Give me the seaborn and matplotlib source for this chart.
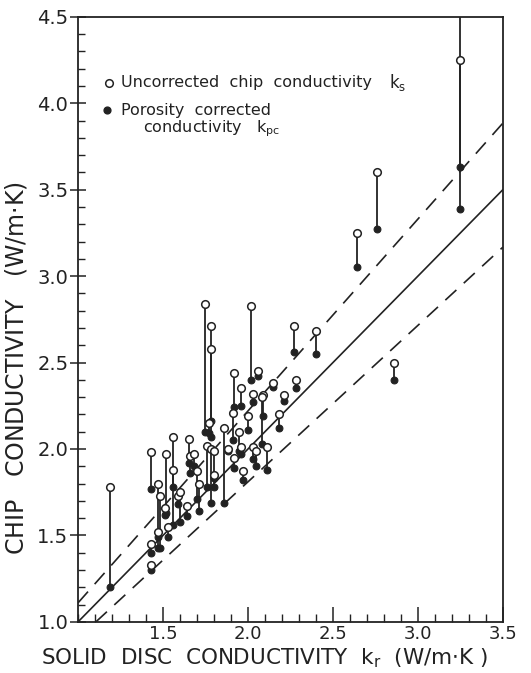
import numpy as np
import pandas as pd
import matplotlib
matplotlib.use("Agg")
import matplotlib.pyplot as plt
from matplotlib.ticker import MultipleLocator, FixedLocator
import seaborn as sns

# solid disc conductivity k_r (W/m.K)
k_r = [3.25, 3.25, 2.76, 2.64, 2.27, 2.40, 2.28, 2.86,
       2.02, 1.75, 1.78, 1.78, 2.06, 1.92, 1.96, 2.03, 2.09, 2.15,
       2.18, 2.21, 2.00, 1.91, 1.86, 1.95, 2.03, 1.96, 2.11, 1.97,
       1.92, 2.05, 2.08, 1.88,
       1.19, 1.43, 1.47, 1.48, 1.52, 1.56, 1.56, 1.51, 1.59, 1.65,
       1.66, 1.68, 1.70, 1.64, 1.77, 1.76, 1.78, 1.80, 1.80, 1.43,
       1.43, 1.47, 1.53, 1.71, 1.60]
# uncorrected chip conductivity k_s
k_s = [4.25, 4.70, 3.60, 3.25, 2.71, 2.68, 2.40, 2.50,
       2.83, 2.84, 2.71, 2.58, 2.45, 2.44, 2.35, 2.32, 2.31, 2.38,
       2.20, 2.31, 2.19, 2.21, 2.12, 2.10, 2.01, 2.01, 2.01, 1.87,
       1.95, 1.99, 2.30, 2.00,
       1.78, 1.98, 1.80, 1.73, 1.97, 2.07, 1.88, 1.66, 1.73, 2.06,
       1.96, 1.97, 1.87, 1.67, 2.15, 2.02, 2.00, 1.99, 1.85, 1.45,
       1.33, 1.52, 1.55, 1.80, 1.75]
# porosity corrected conductivity k_pc
k_pc = [3.63, 3.39, 3.27, 3.05, 2.56, 2.55, 2.35, 2.40,
        2.40, 2.10, 2.16, 2.07, 2.42, 2.24, 2.25, 2.27, 2.19, 2.36,
        2.12, 2.28, 2.11, 2.05, 1.69, 1.99, 1.94, 1.97, 1.88, 1.82,
        1.89, 1.90, 2.03, 1.99,
        1.20, 1.77, 1.49, 1.43, 1.63, 1.56, 1.78, 1.62, 1.68, 1.92,
        1.86, 1.90, 1.71, 1.61, 2.09, 1.78, 1.69, 1.83, 1.78, 1.40,
        1.30, 1.43, 1.49, 1.64, 1.58]

line_x = [1.0, 3.5]
band_hi = 1.11
band_lo = 0.905

df = pd.DataFrame({"k_r": k_r, "k_s": k_s, "k_pc": k_pc})

sns.set_style("white")
plt.rcParams["font.family"] = ["DejaVu Sans"]

ink = "#222222"
fig = plt.figure(figsize=(5.31, 6.73), dpi=100)
ax = fig.add_axes([0.147, 0.076, 0.800, 0.899])

# reference lines
lx = np.array(line_x)
ax.plot(lx, lx, color=ink, lw=1.2)
ax.plot(lx, band_hi * lx, color=ink, lw=1.2, dashes=(9, 6))
lo_x = np.array([1.0 / band_lo, line_x[1]])
ax.plot(lo_x, band_lo * lo_x, color=ink, lw=1.2, dashes=(9, 6))

# stems joining the two values
ax.vlines(df["k_r"], df["k_pc"], df["k_s"], color=ink, lw=1.3, zorder=2)

sns.scatterplot(data=df, x="k_r", y="k_pc", ax=ax, color=ink,
                s=24, edgecolor=ink, linewidth=0.8, zorder=3, legend=False)
sns.scatterplot(data=df, x="k_r", y="k_s", ax=ax, color="white",
                s=30, edgecolor=ink, linewidth=1.1, zorder=4, legend=False)

ax.set_xlim(1.0, 3.5)
ax.set_ylim(1.0, 4.5)

# legend drawn as text, like the original
ax.scatter([1.18], [4.12], s=30, facecolor="white", edgecolor=ink, linewidth=1.1)
ax.scatter([1.17], [3.96], s=24, color=ink)
ax.text(1.25, 4.12, "Uncorrected  chip  conductivity", fontsize=11.5,
        va="center", ha="left", color=ink)
ax.text(2.83, 4.12, "k$_\\mathrm{s}$", fontsize=12, va="center", ha="left", color=ink)
ax.text(1.25, 3.96, "Porosity  corrected", fontsize=11.5, va="center", ha="left", color=ink)
ax.text(1.38, 3.855, "conductivity   k$_\\mathrm{pc}$", fontsize=11.5, va="center", ha="left",
        color=ink)

ax.xaxis.set_major_locator(FixedLocator([1.5, 2.0, 2.5, 3.0, 3.5]))
ax.xaxis.set_minor_locator(MultipleLocator(0.1))
ax.yaxis.set_major_locator(MultipleLocator(0.5))
ax.yaxis.set_minor_locator(MultipleLocator(0.1))
ax.xaxis.set_major_formatter(plt.FuncFormatter(lambda v, p: f"{v:.1f}"))
ax.yaxis.set_major_formatter(plt.FuncFormatter(lambda v, p: f"{v:.1f}"))

ax.tick_params(axis="x", which="major", direction="in", length=11, width=1.1,
               labelsize=13, pad=2, bottom=True, top=False, colors=ink)
ax.tick_params(axis="x", which="minor", direction="in", length=6, width=1.0,
               bottom=True, top=False, color=ink)
ax.tick_params(axis="y", which="major", direction="inout", length=12, width=1.1,
               labelsize=14, pad=1, left=True, right=False, colors=ink)
ax.tick_params(axis="y", which="minor", direction="in", length=5, width=1.0,
               left=True, right=False, color=ink)

for s in ax.spines.values():
    s.set_color(ink)
    s.set_linewidth(1.3)

ax.set_xlabel("SOLID  DISC  CONDUCTIVITY  k$_\\mathrm{r}$  (W/m$\\cdot$K )", fontsize=15.5,
              color=ink, labelpad=0)
ax.set_ylabel("CHIP   CONDUCTIVITY   (W/m$\\cdot$K)", fontsize=17, color=ink)
ax.yaxis.set_label_coords(-0.115, 0.42)
ax.xaxis.set_label_coords(0.44, -0.04)

plt.savefig("out.png", dpi=100)
